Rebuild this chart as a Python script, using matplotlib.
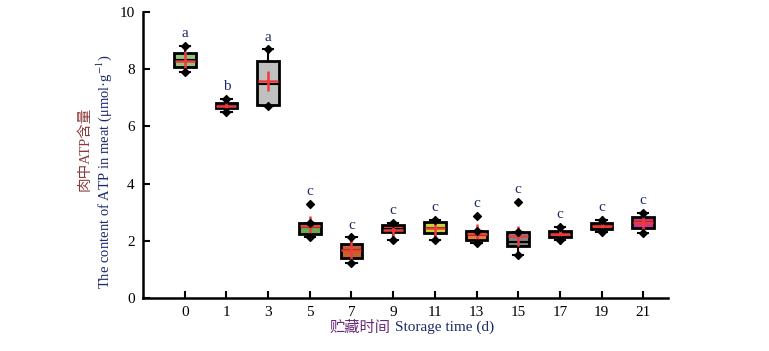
import matplotlib
matplotlib.use('Agg')
import matplotlib.pyplot as plt
import numpy as np

# 贮藏时间 / 数据
days = ['0', '1', '3', '5', '7', '9', '11', '13', '15', '17', '19', '21']
q1 = [8.08, 6.64, 6.75, 2.24, 1.40, 2.31, 2.27, 2.03, 1.82, 2.13, 2.41, 2.45]
med = [8.32, 6.72, 7.48, 2.48, 1.68, 2.40, 2.45, 2.20, 1.96, 2.22, 2.50, 2.66]
q3 = [8.57, 6.82, 8.29, 2.62, 1.89, 2.55, 2.66, 2.34, 2.30, 2.34, 2.62, 2.83]
whis_lo = [7.90, 6.50, 6.71, 2.13, 1.22, 2.03, 2.03, 1.92, 1.50, 2.03, 2.31, 2.27]
whis_hi = [8.81, 6.96, 8.70, 2.62, 2.13, 2.62, 2.73, 2.34, 2.30, 2.48, 2.73, 2.97]
means = [8.30, 6.72, 7.59, 2.52, 1.68, 2.38, 2.45, 2.22, 2.17, 2.22, 2.52, 2.66]
outliers = [[], [], [], [3.29], [], [], [], [2.87], [3.36], [], [], []]
letters = ['a', 'b', 'a', 'c', 'c', 'c', 'c', 'c', 'c', 'c', 'c', 'c']
colors = ['#93c47d', '#c0392b', '#c0c0c0', '#6aa84f', '#c4622d', '#d04040',
          '#c6d43c', '#e8803a', '#808080', '#d04040', '#c0392b', '#d63384']

plt.rcParams['font.family'] = ['Liberation Serif', 'Noto Sans CJK SC']
plt.rcParams['mathtext.fontset'] = 'stix'

fig = plt.figure(figsize=(7.69, 3.51), dpi=100)
ax = fig.add_axes([0.186, 0.151, 0.683, 0.815])

pos = np.arange(1, len(days) + 1)
stats = []
for i in range(len(days)):
    stats.append(dict(q1=q1[i], med=med[i], q3=q3[i], whislo=whis_lo[i],
                      whishi=whis_hi[i], mean=means[i], fliers=[]))

bp = ax.bxp(stats, positions=pos, widths=0.52, patch_artist=True,
            showmeans=True, showfliers=False, capwidths=0.25,
            boxprops=dict(linewidth=2, edgecolor='black'),
            medianprops=dict(color='black', linewidth=1.5),
            whiskerprops=dict(color='black', linewidth=1.5),
            capprops=dict(color='black', linewidth=1.5),
            meanprops=dict(marker='+', markersize=15, markeredgewidth=1.8,
                           markeredgecolor='#ee3b3b'))
for patch, c in zip(bp['boxes'], colors):
    patch.set_facecolor(c)

# 须端和异常值的菱形标记
ax.scatter(pos, whis_lo, marker='D', s=16, color='black', zorder=4)
ax.scatter(pos, whis_hi, marker='D', s=16, color='black', zorder=4)
for p, o in zip(pos, outliers):
    if o:
        ax.scatter([p] * len(o), o, marker='D', s=16, color='black', zorder=4)

# 显著性字母
for p, hi, o, t in zip(pos, whis_hi, outliers, letters):
    top = max([hi] + o)
    ax.annotate(t, (p, top), xytext=(0, 4), textcoords='offset points',
                ha='center', va='bottom', fontsize=11, color='#1c2a6b')

ax.set_xlim(0, 12.6)
ax.set_ylim(0, 10)
ax.set_xticks(pos)
ax.set_xticklabels(days)
ax.set_yticks([0, 2, 4, 6, 8, 10])
ax.tick_params(direction='in', length=5, width=1.5, labelsize=11, pad=6)
for s in ['top', 'right']:
    ax.spines[s].set_visible(False)
for s in ['left', 'bottom']:
    ax.spines[s].set_linewidth(1.8)

# 坐标轴标题
fig.text(0.508, 0.068, '贮藏时间', ha='right', va='center', fontsize=11,
         color='#6a2a7a', family=['Noto Sans CJK SC'])
fig.text(0.514, 0.068, 'Storage time (d)', ha='left', va='center', fontsize=11,
         color='#1c2a6b')
fig.text(0.110, 0.575, '肉中ATP含量', rotation=90, ha='center', va='center',
         fontsize=10.5, color='#8b3a3a', family=['Liberation Serif', 'Noto Sans CJK SC'])
fig.text(0.136, 0.51, 'The content of ATP in meat (μmol·g$^{-1}$)', rotation=90,
         ha='center', va='center', fontsize=10.5, color='#1c2a6b')

fig.savefig('out.png', dpi=100)
